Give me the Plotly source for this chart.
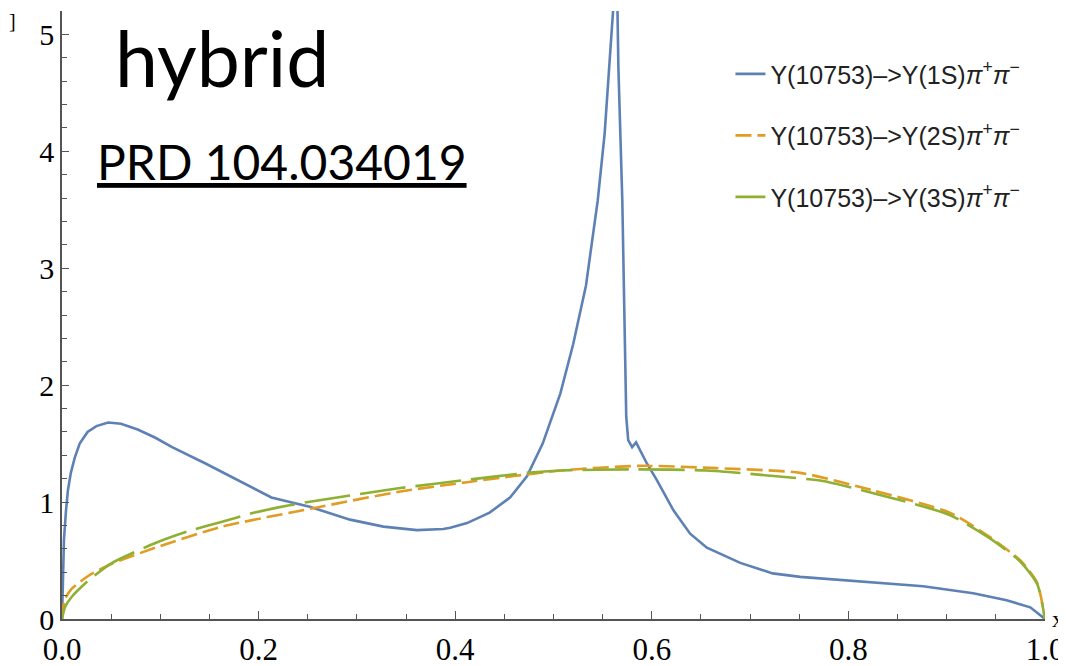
import plotly.graph_objects as go

# ---- data ----
x_1s = [0, 0.001, 0.002, 0.004, 0.006, 0.009, 0.013, 0.018, 0.026, 0.035, 0.047, 0.060,
        0.077, 0.095, 0.112, 0.146, 0.179, 0.213,
        0.237, 0.252, 0.293, 0.327, 0.361, 0.388, 0.395, 0.399, 0.412, 0.435, 0.456, 0.473,
        0.489, 0.507, 0.520, 0.533, 0.545, 0.552, 0.557, 0.561, 0.565, 0.566, 0.570, 0.572,
        0.574, 0.576, 0.580, 0.584, 0.595, 0.605, 0.622, 0.639, 0.656, 0.690, 0.723, 0.751,
        0.809, 0.876, 0.927, 0.961, 0.985, 1.0]
y_1s = [0, 0.50, 0.68, 0.92, 1.10, 1.25, 1.38, 1.50, 1.60, 1.65, 1.68, 1.67,
        1.62, 1.55, 1.47, 1.33, 1.19, 1.04,
        0.99, 0.96, 0.85, 0.79, 0.76, 0.77, 0.78, 0.79, 0.82, 0.91, 1.04, 1.22,
        1.50, 1.93, 2.35, 2.85, 3.58, 4.15, 4.72, 5.25, 5.25, 4.72, 3.58, 2.44,
        1.73, 1.53, 1.47, 1.51, 1.33, 1.19, 0.93, 0.73, 0.61, 0.48, 0.39, 0.36,
        0.32, 0.28, 0.22, 0.16, 0.10, 0.0]

x_2s = [0, 0.003, 0.010, 0.027, 0.050, 0.095, 0.163, 0.257, 0.344, 0.412, 0.507, 0.588,
        0.666, 0.751, 0.825, 0.903, 0.944, 0.975, 0.992, 1.0]
y_2s = [0, 0.17, 0.26, 0.37, 0.47, 0.61, 0.79, 0.95, 1.09, 1.17, 1.27, 1.31,
        1.29, 1.25, 1.10, 0.91, 0.70, 0.50, 0.31, 0.0]

x_3s = [0, 0.003, 0.010, 0.027, 0.051, 0.095, 0.128, 0.162, 0.196, 0.230, 0.257, 0.344,
        0.412, 0.473, 0.507, 0.581, 0.656, 0.741, 0.774, 0.842, 0.903, 0.944, 0.975,
        0.992, 1.0]
y_3s = [0, 0.10, 0.19, 0.33, 0.48, 0.65, 0.75, 0.83, 0.91, 0.97, 1.01, 1.12,
        1.19, 1.25, 1.27, 1.28, 1.27, 1.21, 1.18, 1.04, 0.89, 0.69, 0.49,
        0.30, 0.0]

names = ["Y(10753)–>Y(1S)<i>π</i><sup>+</sup><i>π</i><sup>−</sup>",
         "Y(10753)–>Y(2S)<i>π</i><sup>+</sup><i>π</i><sup>−</sup>",
         "Y(10753)–>Y(3S)<i>π</i><sup>+</sup><i>π</i><sup>−</sup>"]
x_ticks = [0.0, 0.2, 0.4, 0.6, 0.8, 1.0]
x_ticklabels = ["0.0", "0.2", "0.4", "0.6", "0.8", "1.0"]
y_ticks = [0, 1, 2, 3, 4, 5]

colors = ["#5E81B5", "#E19C24", "#8FB032"]

fig = go.Figure()
fig.add_trace(go.Scatter(x=x_1s, y=y_1s, mode="lines", name=names[0], legendgroup="a",
                         line=dict(color=colors[0], width=2.6)))
fig.add_trace(go.Scatter(x=x_2s, y=y_2s, mode="lines", name=names[1], legendgroup="b",
                         line=dict(color=colors[1], width=2.6, dash="16px,6px",
                                   shape="spline", smoothing=0.6)))
fig.add_trace(go.Scatter(x=x_3s, y=y_3s, mode="lines", name=names[2], legendgroup="c",
                         line=dict(color=colors[2], width=2.6, dash="46px,10px",
                                   shape="spline", smoothing=0.6)))

axis_common = dict(showgrid=False, zeroline=False, showline=True, linecolor="#555555",
                   linewidth=1.5, ticks="inside", tickcolor="#555555", tickwidth=1.2,
                   mirror=False, automargin=False)

fig.update_xaxes(range=[0, 1], tickvals=x_ticks, ticktext=x_ticklabels, ticklen=8,
                 ticklabelstandoff=2,
                 tickfont=dict(family="Liberation Serif", size=31, color="black"),
                 minor=dict(dtick=0.05, ticklen=5, ticks="inside", tickcolor="#555555",
                            tickwidth=1.2),
                 **axis_common)
fig.update_yaxes(range=[0, 5.2], tickvals=y_ticks, ticklen=7,
                 tickfont=dict(family="Liberation Serif", size=30, color="black"),
                 minor=dict(dtick=0.2, ticklen=5, ticks="inside", tickcolor="#555555",
                            tickwidth=1.2),
                 **axis_common)

# the page body adds an 8px margin, so the figure is 8px smaller on the left/top side
fig.update_layout(
    width=1058, height=658, autosize=False,
    margin=dict(l=54, r=21, t=3, b=47, autoexpand=False),
    paper_bgcolor="white", plot_bgcolor="white",
    showlegend=True,
    legend=dict(x=0.680, y=0.934, xanchor="left", yanchor="top",
                font=dict(family="Liberation Sans", size=25, color="#222222"),
                bgcolor="rgba(0,0,0,0)", tracegroupgap=26),
    annotations=[
        dict(text="hybrid", xref="paper", yref="paper", x=0.052, y=0.925,
             xanchor="left", yanchor="middle", showarrow=False,
             font=dict(family="Lato", size=77, color="black")),
        dict(text="<u>PRD 104.034019</u>", xref="paper", yref="paper", x=0.034, y=0.752,
             xanchor="left", yanchor="middle", showarrow=False,
             font=dict(family="Lato", size=48, color="black")),
        dict(text="]", xref="paper", yref="paper", x=-0.050, y=1.005,
             xanchor="center", yanchor="top", showarrow=False,
             font=dict(family="Liberation Serif", size=20, color="black")),
        dict(text="x", xref="paper", yref="paper", x=1.0214, y=0.0,
             xanchor="right", yanchor="middle", showarrow=False,
             font=dict(family="Liberation Serif", size=24, color="black")),
    ],
)

fig.write_html("out.html")
